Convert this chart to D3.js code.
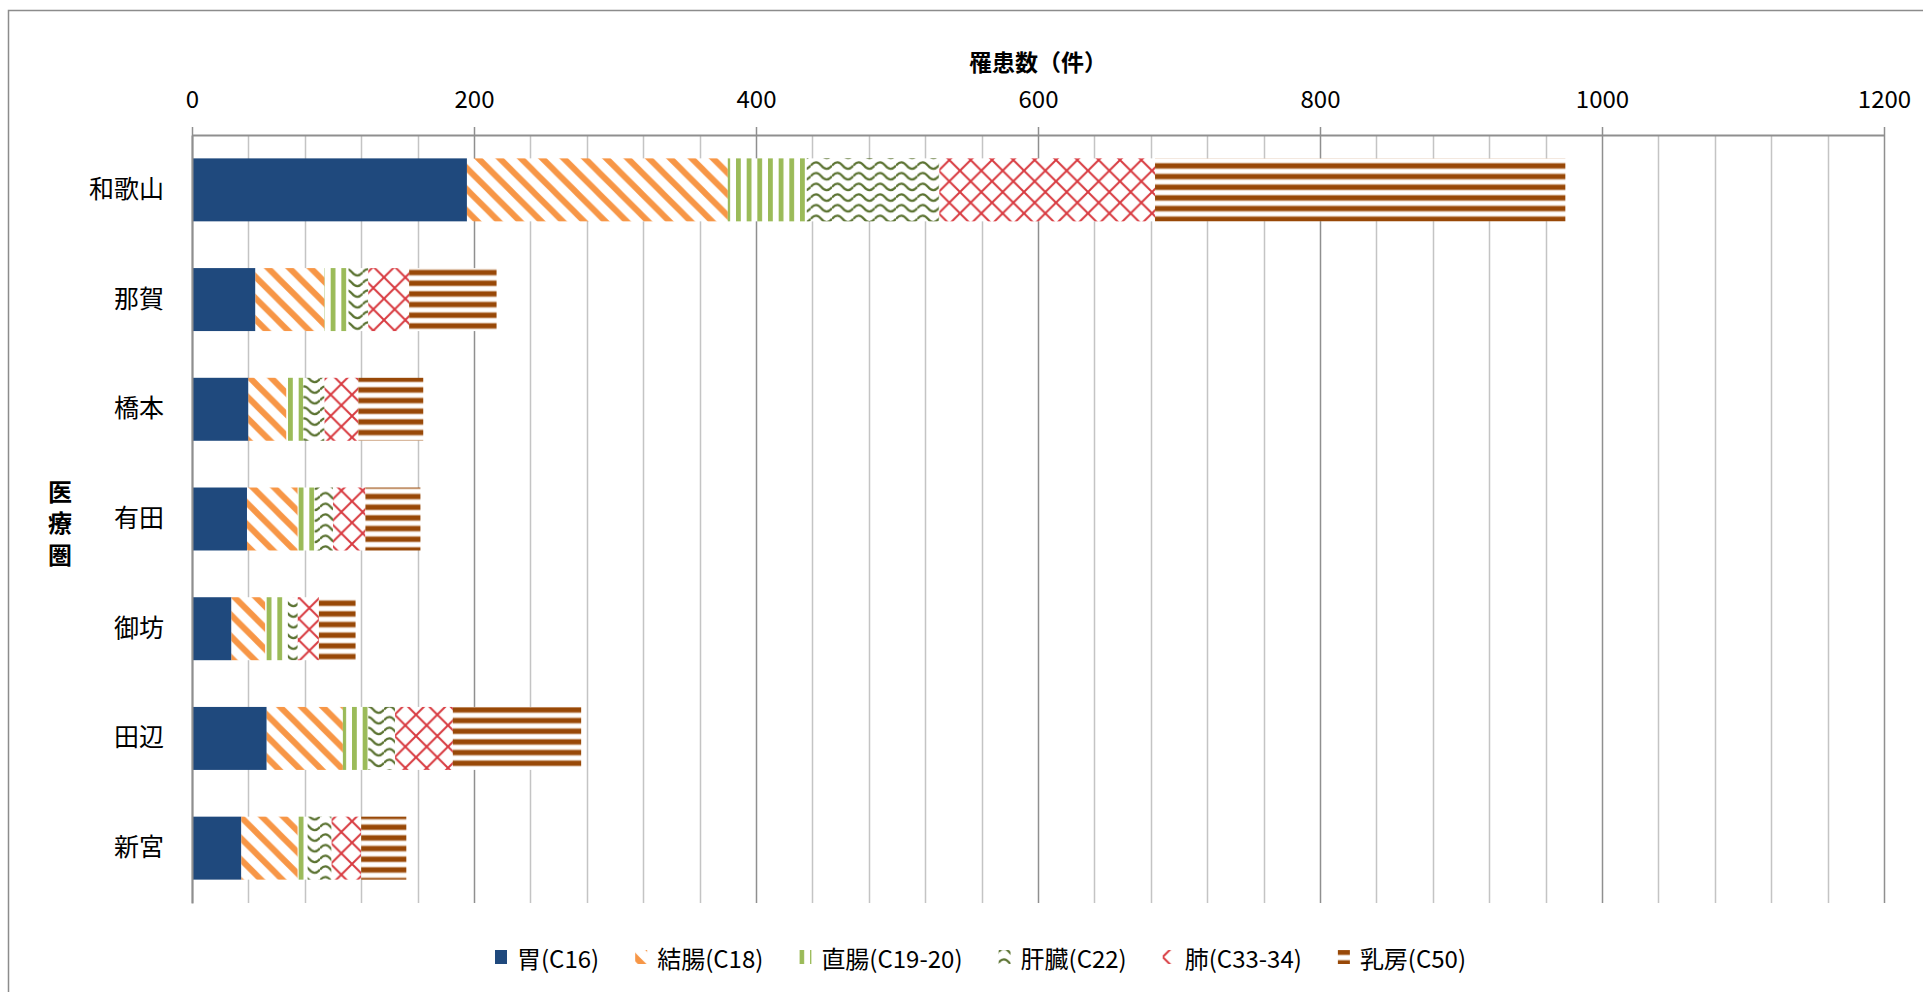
<!DOCTYPE html>
<html>
<head>
<meta charset="utf-8">
<script src="https://cdn.jsdelivr.net/npm/d3@7"></script>
<style>
  html, body { margin: 0; padding: 0; background: #ffffff; }
  svg { display: block; font-family: "Noto Sans CJK JP", "Noto Sans", sans-serif; }
</style>
</head>
<body>
<svg id="chart" width="1923" height="992"></svg>
<script>
// Cancer incidence counts by medical area (stacked by site)
const areas = ["和歌山", "那賀", "橋本", "有田", "御坊", "田辺", "新宮"];
const siteLabels = ["胃(C16)", "結腸(C18)", "直腸(C19-20)", "肝臓(C22)", "肺(C33-34)", "乳房(C50)"];
const stomach = [195, 45, 40, 39, 28, 53, 35];
const colon   = [185, 49, 27, 36, 24, 54, 40];
const rectum  = [56, 17, 12, 12, 16, 18, 7];
const liver   = [94, 14, 15, 13, 7, 19, 17];
const lung    = [153, 29, 24, 23, 15, 41, 21];
const breast  = [291, 62, 46, 39, 26, 91, 32];
const xTicks = [0, 200, 400, 600, 800, 1000, 1200];
const xTitle = "罹患数（件）";
const yTitle = "医療圏";

const keys = ["stomach", "colon", "rectum", "liver", "lung", "breast"];
const seriesValues = { stomach, colon, rectum, liver, lung, breast };
const rows = areas.map((area, i) => {
  const r = { area };
  keys.forEach(k => { r[k] = seriesValues[k][i]; });
  return r;
});

const svg = d3.select("#chart");
const W = 1923, H = 992;
svg.append("rect").attr("width", W).attr("height", H).attr("fill", "#fff");

// Chart frame
svg.append("rect")
  .attr("x", 8.5).attr("y", 10.5).attr("width", W + 20).attr("height", H + 20)
  .attr("fill", "none").attr("stroke", "#8c8c8c").attr("stroke-width", 1.5);

const plot = { left: 192, right: 1884, top: 135, bottom: 903 };
const x = d3.scaleLinear().domain([0, 1200]).range([plot.left, plot.right]);
const y = d3.scaleBand().domain(areas).range([plot.top, plot.bottom])
  .paddingInner(0.426).paddingOuter(0.213);

// ---- fill patterns ----
const T = 64 / 3;
const defs = svg.append("defs");
function pattern(id, w, h) {
  const p = defs.append("pattern").attr("id", id)
    .attr("patternUnits", "userSpaceOnUse").attr("width", w).attr("height", h);
  p.append("rect").attr("width", w).attr("height", h).attr("fill", "#fff");
  return p;
}
// stomach: solid
defs.append("pattern").attr("id", "pat-stomach").attr("patternUnits", "userSpaceOnUse")
  .attr("width", 10).attr("height", 10)
  .append("rect").attr("width", 10).attr("height", 10).attr("fill", "#1F497D");
// colon: wide downward diagonal
pattern("pat-colon", T, T).append("path")
  .attr("d", [-T, 0, T].map(c => `M${-T},${-T + c}L${2 * T},${2 * T + c}`).join(""))
  .attr("stroke", "#F79646").attr("stroke-width", 6).attr("fill", "none");
// rectum: vertical stripes
pattern("pat-rectum", T / 2, T / 2).append("rect")
  .attr("x", 0).attr("y", 0).attr("width", 4.8).attr("height", T / 2).attr("fill", "#9BBB59");
// liver: wave
pattern("pat-liver", T, T / 2).append("path")
  .attr("d", `M0,5.6Q${T / 4},-1 ${T / 2},5.6T${T},5.6`)
  .attr("stroke", "#5A7230").attr("stroke-width", 2.2).attr("fill", "none");
// lung: diamond lattice
pattern("pat-lung", T, T).append("path")
  .attr("d", [-T, 0, T].map(c =>
    `M${-T},${-T + c}L${2 * T},${2 * T + c}M${-T},${2 * T + c}L${2 * T},${-T + c}`).join(""))
  .attr("stroke", "#D83A40").attr("stroke-width", 2).attr("fill", "none");
// breast: horizontal stripes
const pb = pattern("pat-breast", 4, T / 2);
pb.append("rect").attr("x", 0).attr("y", 2.6).attr("width", 4).attr("height", 6.6).attr("fill", "#DDBFA3");
pb.append("rect").attr("x", 0).attr("y", 3.5).attr("width", 4).attr("height", 4.8).attr("fill", "#984807");

// ---- gridlines ----
const grid = svg.append("g");
grid.selectAll("line").data(d3.range(0, 1201, 40)).join("line")
  .attr("x1", d => Math.round(x(d)) + 0.5).attr("x2", d => Math.round(x(d)) + 0.5)
  .attr("y1", plot.top).attr("y2", plot.bottom)
  .attr("stroke", d => d % 200 === 0 ? "#8f8f8f" : "#c4c4c4")
  .attr("stroke-width", 1.5);

// ---- stacked bars ----
const stacked = d3.stack().keys(keys)(rows);
svg.append("g").selectAll("g").data(stacked).join("g")
  .attr("fill", d => `url(#pat-${d.key})`)
  .selectAll("rect").data(d => d).join("rect")
  .attr("x", d => x(d[0]))
  .attr("y", d => y(d.data.area))
  .attr("width", d => x(d[1]) - x(d[0]))
  .attr("height", y.bandwidth());

// ---- axes ----
const xAxis = svg.append("g").attr("transform", `translate(0,${plot.top})`)
  .call(d3.axisTop(x).tickValues(xTicks).tickFormat(d3.format("d"))
    .tickSize(8).tickSizeOuter(0).tickPadding(19));
xAxis.select(".domain").attr("stroke", "#8f8f8f").attr("stroke-width", 2);
xAxis.selectAll(".tick line").attr("stroke", "#8f8f8f").attr("stroke-width", 1.5);
xAxis.selectAll("text").attr("font-size", 24).attr("fill", "#000")
  .attr("font-family", "'Noto Sans CJK JP', sans-serif");

const yAxis = svg.append("g").attr("transform", `translate(${plot.left},0)`)
  .call(d3.axisLeft(y).tickSize(0).tickPadding(28));
yAxis.select(".domain").attr("stroke", "#8f8f8f").attr("stroke-width", 2);
yAxis.selectAll("text").attr("font-size", 25).attr("fill", "#000")
  .attr("font-family", "'Noto Sans CJK JP', sans-serif");

// axis titles
svg.append("text").attr("x", (plot.left + plot.right) / 2).attr("y", 61)
  .attr("text-anchor", "middle").attr("dominant-baseline", "central")
  .attr("font-size", 23).attr("font-weight", "bold").text(xTitle);

const yt = svg.append("text").attr("text-anchor", "middle")
  .attr("font-size", 24).attr("font-weight", "bold");
Array.from(yTitle).forEach((ch, i) => {
  yt.append("tspan").attr("x", 60).attr("y", 490 + i * 31.5)
    .attr("dominant-baseline", "central").text(ch);
});

// ---- legend ----
const legend = svg.append("g").attr("transform", "translate(495,957)");
let cx = 0;
keys.forEach((k, i) => {
  const item = legend.append("g").attr("transform", `translate(${cx},0)`);
  item.append("rect").attr("x", 0).attr("y", -7).attr("width", 12).attr("height", 14)
    .attr("fill", `url(#pat-${k})`);
  const t = item.append("text").attr("x", 22).attr("y", 0)
    .attr("dominant-baseline", "central").attr("font-size", 24).attr("fill", "#000")
    .text(siteLabels[i]);
  cx += 22 + t.node().getComputedTextLength() + 36;
});
</script>
</body>
</html>
